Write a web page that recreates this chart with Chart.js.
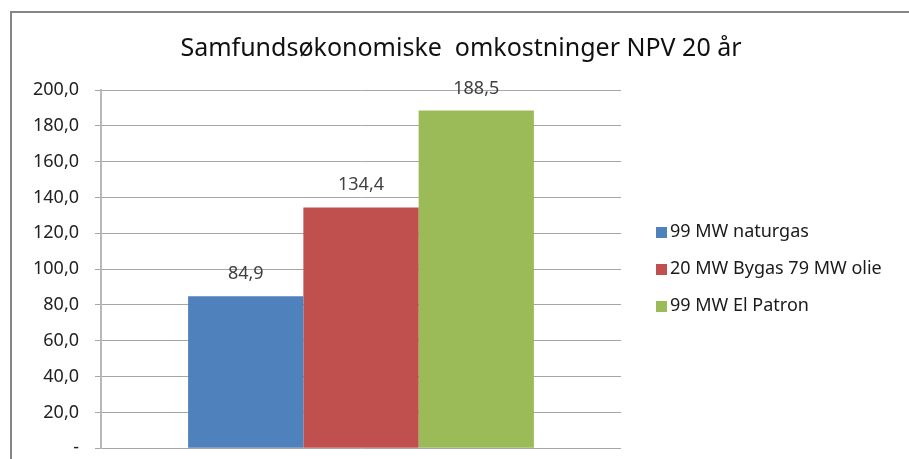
<!DOCTYPE html>
<html>
<head>
<meta charset="utf-8">
<script src="https://cdn.jsdelivr.net/npm/chart.js@4.4.1/dist/chart.umd.min.js"></script>
<style>
html,body{margin:0;padding:0;background:#fff;overflow:hidden;}
#wrap{position:relative;width:909px;height:459px;overflow:hidden;}
</style>
</head>
<body>
<div id="wrap"><canvas id="c" width="909" height="475"></canvas></div>
<script>
const titleText = "Samfundsøkonomiske  omkostninger NPV 20 år";
const categories = [""];
const seriesNames = ["99 MW naturgas", "20 MW Bygas 79 MW olie", "99 MW El Patron"];
const seriesValues = [84.9, 134.4, 188.5];
const seriesColors = ["#4F81BD", "#C0504D", "#9BBB59"];
const yTicks = [0, 20, 40, 60, 80, 100, 120, 140, 160, 180, 200];

const FONT = "'Noto Sans', 'Open Sans', sans-serif";
const fmt = v => v === 0 ? "-" : v.toFixed(1).replace(".", ",");

const decor = {
  id: 'decor',
  beforeDraw(chart) {
    const ctx = chart.ctx;
    ctx.save();
    ctx.strokeStyle = '#868686';
    ctx.lineWidth = 2;
    ctx.strokeRect(11, 12, 1200, 1200);
    ctx.fillStyle = '#111';
    ctx.font = "25px " + FONT;
    ctx.textAlign = 'center';
    ctx.textBaseline = 'alphabetic';
    ctx.fillText(titleText, 461, 56);
    ctx.restore();
  },
  afterDatasetsDraw(chart) {
    const ctx = chart.ctx;
    ctx.save();
    ctx.font = "18px " + FONT;
    ctx.fillStyle = '#404040';
    ctx.textAlign = 'center';
    ctx.textBaseline = 'alphabetic';
    chart.data.datasets.forEach((ds, i) => {
      const meta = chart.getDatasetMeta(i);
      meta.data.forEach((bar, j) => {
        ctx.fillText(fmt(ds.data[j]), bar.x, bar.y - 17);
      });
    });
    // legend
    ctx.textAlign = 'left';
    ctx.textBaseline = 'middle';
    chart.data.datasets.forEach((ds, i) => {
      const y = 232 + i * 37;
      ctx.fillStyle = ds.backgroundColor;
      ctx.fillRect(656, y - 5, 11, 11);
      ctx.fillStyle = '#1a1a1a';
      ctx.fillText(ds.label, 670, y);
    });
    ctx.restore();
  }
};

new Chart(document.getElementById('c'), {
  type: 'bar',
  data: {
    labels: categories,
    datasets: seriesNames.map((n, i) => ({
      label: n,
      data: [seriesValues[i]],
      backgroundColor: seriesColors[i],
      borderWidth: 0,
      barPercentage: 1.0,
      categoryPercentage: 0.665
    }))
  },
  options: {
    responsive: false,
    animation: false,
    layout: { padding: { left: 0, right: 288, top: 90, bottom: 13 } },
    plugins: { legend: { display: false }, title: { display: false }, tooltip: { enabled: false } },
    scales: {
      x: { display: false },
      y: {
        min: 0, max: 200,
        afterFit(scale) { scale.width = 101; },
        afterBuildTicks(scale) { scale.ticks = yTicks.map(v => ({ value: v })); },
        ticks: {
          callback: v => fmt(v),
          color: '#222',
          font: { family: FONT, size: 18 },
          padding: 16
        },
        grid: { color: '#a6a6a6', lineWidth: 1, tickLength: 6, drawTicks: true },
        border: { display: true, color: '#b8b8b8', width: 2 }
      }
    }
  },
  plugins: [decor]
});
</script>
</body>
</html>
